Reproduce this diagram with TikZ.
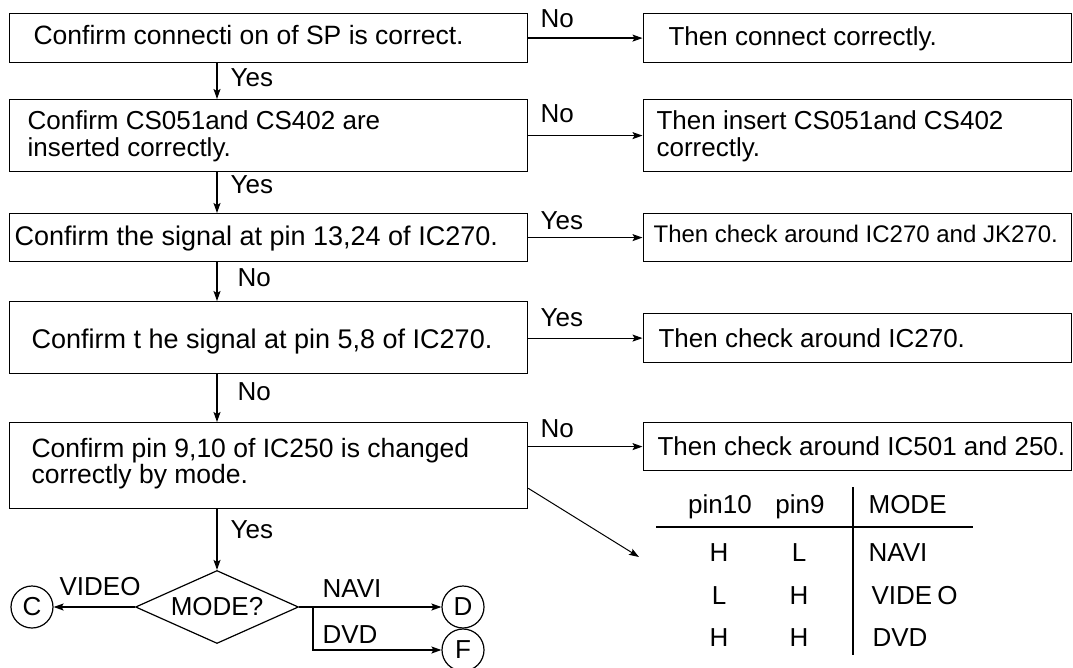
\documentclass[tikz,border=0pt]{standalone}
\usepackage{fontspec}
\setmainfont{Liberation Sans}
\usetikzlibrary{arrows.meta,shapes.geometric,calc}
\begin{document}
\begin{tikzpicture}[x=1pt,y=-1pt,line width=1.2pt,
  box/.style={draw,inner sep=0pt,anchor=north west},
  lbox/.style={box,minimum width=518pt},
  rbox/.style={box,minimum width=428.5pt},
  txt/.style={anchor=base west,inner sep=0pt,font=\fontsize{26}{27}\selectfont},
  btxt/.style={anchor=base west,inner sep=0pt,font=\fontsize{27}{28}\selectfont},
  stxt/.style={anchor=base west,inner sep=0pt,font=\fontsize{24}{25}\selectfont},
  ctxt/.style={anchor=base,inner sep=0pt,font=\fontsize{26}{27}\selectfont},
  arr/.style={-{Stealth[length=10pt,width=7pt,inset=2pt]}},
  circ/.style={draw,circle,minimum size=42pt,inner sep=0pt,font=\fontsize{26}{27}\selectfont},
]
\useasboundingbox (0,0) rectangle (1073,668);
% left boxes
\node[lbox,minimum height=49pt] (b1) at (9,13) {};
\node[lbox,minimum height=72pt] (b2) at (9,99) {};
\node[lbox,minimum height=48pt] (b3) at (9,213) {};
\node[lbox,minimum height=72pt] (b4) at (9,301) {};
\node[lbox,minimum height=86pt] (b5) at (9,422) {};
% right boxes
\node[rbox,minimum height=49pt] (r1) at (642.5,13) {};
\node[rbox,minimum height=72pt] (r2) at (642.5,99) {};
\node[rbox,minimum height=48pt] (r3) at (642.5,213) {};
\node[rbox,minimum height=49pt] (r4) at (642.5,313) {};
\node[rbox,minimum height=48pt] (r5) at (642.5,422) {};
% texts
\node[txt,font=\fontsize{26.5}{27}\selectfont] (t1) at (33,45) {Confirm connecti on of SP is correct.};
\node[txt] (t2a) at (27,130) {Confirm CS051and CS402 are};
\node[txt] (t2b) at (27,157) {inserted correctly.};
\node[btxt] (t3) at (14,246) {Confirm the signal at pin 13,24 of IC270.};
\node[btxt] (t4) at (31,348) {Confirm t he signal at pin 5,8 of IC270.};
\node[txt,font=\fontsize{26.5}{27}\selectfont] (t5a) at (31,457) {Confirm pin 9,10 of IC250 is changed};
\node[txt,font=\fontsize{26.5}{27}\selectfont] (t5b) at (31,483) {correctly by mode.};
\node[txt] (s1) at (668,46) {Then connect correctly.};
\node[txt] (s2a) at (656,130) {Then insert CS051and CS402};
\node[txt] (s2b) at (656,157) {correctly.};
\node[stxt] (s3) at (653,243) {Then check around IC270 and JK270.};
\node[txt] (s4) at (658,347) {Then check around IC270.};
\node[txt] (s5) at (657,455) {Then check around IC501 and 250.};
% decision and terminals
\node[draw,diamond,aspect=2.2,inner sep=0pt,minimum width=163pt,minimum height=73pt,font=\fontsize{26}{27}\selectfont] (mode) at (217,607) {MODE?};
\node[circ] (C) at (32,607) {C};
\node[circ] (D) at (463,607) {D};
\node[circ] (F) at (463,650) {F};
\coordinate (br) at (313,607);
\coordinate (tab) at (639,557);
% connectors
\draw[arr] (b1.east) -- (r1.west);
\draw[arr] (b2.east) -- (r2.west);
\draw[arr] (b3.east) -- (r3.west);
\draw[arr] (b4.east |- r4.west) -- (r4.west);
\draw[arr] (b5.east |- r5.west) -- (r5.west);
\draw[arr] (b1.south -| mode.north) -- (b2.north -| mode.north);
\draw[arr] (b2.south -| mode.north) -- (b3.north -| mode.north);
\draw[arr] (b3.south -| mode.north) -- (b4.north -| mode.north);
\draw[arr] (b4.south -| mode.north) -- (b5.north -| mode.north);
\draw[arr] (b5.south -| mode.north) -- (mode.north);
\draw[arr,line width=1pt] ($(b5.south east)!0.24!(b5.north east)$) -- (tab);
\draw[arr] (mode.west) -- (C.east);
\draw[arr] (mode.east) -- (D.west);
\draw[arr] (br) |- (F.west);
% connector labels
\node[txt] (l1) at (540,28) {No};
\node[txt] (l2) at (540,123) {No};
\node[txt] (l3) at (540,230) {Yes};
\node[txt] (l4) at (540,326) {Yes};
\node[txt] (l5) at (540,437) {No};
\node[txt] (d1) at (230,87) {Yes};
\node[txt] (d2) at (230,194) {Yes};
\node[txt] (d3) at (237,287) {No};
\node[txt] (d4) at (237,400) {No};
\node[txt] (d5) at (230,538) {Yes};
\node[txt] (lv) at (59,595) {VIDEO};
\node[txt] (ln) at (322,597) {NAVI};
\node[txt] (ld) at (322,643) {DVD};
% table
\node[ctxt] (h1) at (720,513) {pin10};
\node[ctxt] (h2) at (800,513) {pin9};
\node[txt] (h3) at (868,513) {MODE};
\node[ctxt] (a1) at (719,561) {H};
\node[ctxt] (a2) at (799,561) {L};
\node[txt] (a3) at (868,561) {NAVI};
\node[ctxt] (b1c) at (719,604) {L};
\node[ctxt] (b2c) at (799,604) {H};
\node[txt] (b3c) at (871,604) {VIDE\kern5pt O};
\node[ctxt] (c1) at (719,646) {H};
\node[ctxt] (c2) at (799,646) {H};
\node[txt] (c3) at (872,646) {DVD};
\coordinate (hl1) at (656,527);
\coordinate (hl2) at (973,527);
\coordinate (vl1) at (853,487);
\coordinate (vl2) at (853,655);
\draw (hl1) -- (hl2);
\draw (vl1) -- (vl2);
\end{tikzpicture}
\end{document}
